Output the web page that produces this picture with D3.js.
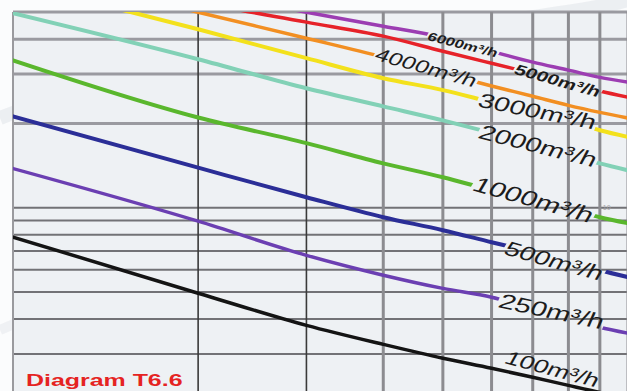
<!DOCTYPE html>
<html>
<head>
<meta charset="utf-8">
<script src="https://cdn.jsdelivr.net/npm/d3@7"></script>
<style>
  html, body { margin: 0; padding: 0; background: #fbfcfd; }
  svg { display: block; }
  text { font-family: "Liberation Sans", Arial, Helvetica, sans-serif; }
</style>
</head>
<body>
<svg id="chart" width="627" height="391"></svg>
<script>
// Grid positions (log axes)
const xTicks = [1, 2, 3, 4, 5, 6, 7, 8, 9, 10];
const yTicks = [3, 4, 5, 6, 7, 8, 9, 10, 20, 30, 40, 50];

// Common abscissa of every curve
const flowX = [1, 2, 3, 4, 5, 6, 7, 8, 9, 10];

// One curve per air flow rate
const q6000 = [81.0, 59.3, 49.9, 44.5, 40.6, 36.2, 33.1, 31.0, 29.2, 28.1];
const q5000 = [76.5, 54.2, 46.0, 41.0, 36.2, 32.8, 30.2, 28.1, 26.1, 24.8];
const q4000 = [73.5, 49.9, 40.3, 34.5, 30.2, 27.2, 25.0, 23.2, 21.9, 20.9];
const q3000 = [63.9, 43.4, 34.2, 29.0, 26.3, 23.8, 21.9, 20.5, 18.9, 17.9];
const q2000 = [49.5, 33.9, 26.7, 23.0, 20.5, 18.5, 16.9, 15.5, 14.4, 13.6];
const q1000 = [33.6, 21.0, 17.0, 14.4, 12.85, 11.55, 10.6, 9.9, 9.25, 8.8];
const q500  = [21.2, 13.9, 10.9, 9.25, 8.31, 7.53, 6.94, 6.44, 5.98, 5.65];
const q250  = [13.8, 8.95, 6.76, 5.74, 5.15, 4.79, 4.38, 4.03, 3.74, 3.56];
const q100  = [7.85, 4.95, 3.80, 3.25, 2.90, 2.67, 2.48, 2.32, 2.19, 2.09];

const seriesLabels = ["6000m³/h", "5000m³/h", "4000m³/h", "3000m³/h", "2000m³/h",
                      "1000m³/h", "500m³/h", "250m³/h", "100m³/h"];
const seriesValues = [q6000, q5000, q4000, q3000, q2000, q1000, q500, q250, q100];

// Drawing styles, one per curve
const seriesColors = ["#9c3db2", "#e62229", "#f28f22", "#f3e11c", "#82d1b6",
                      "#5ab72d", "#2b2e97", "#6b3fb2", "#141414"];
const seriesWidths = [3.5, 3.5, 3.5, 4, 4, 4, 4, 3.5, 3.5];

// Label layout: where along the curve the label sits, its tilt, size, weight
const labelLayout = [
  { at: 5.39, dy: 1.5,  angle: 20, size: 11.7, weight: "bold",   knock: true },
  { at: 7.69, dy: 1,    angle: 22, size: 14.5, weight: "bold",   knock: true },
  { at: 4.70, dy: -1.5, angle: 22, size: 17.6, weight: "normal", knock: true },
  { at: 7.13, dy: -2.5, angle: 16, size: 19.8, weight: "normal", knock: true },
  { at: 7.15, dy: 0,    angle: 20, size: 20.2, weight: "normal", knock: true },
  { at: 7.03, dy: -1.5, angle: 22, size: 20.8, weight: "normal", knock: true },
  { at: 7.59, dy: 3,    angle: 22, size: 19.6, weight: "normal", knock: true },
  { at: 7.52, dy: -2.5, angle: 17, size: 20.4, weight: "normal", knock: true },
  { at: 7.54, dy: -13,  angle: 21, size: 18.6, weight: "normal", knock: false }
];

const W = 627, H = 391;
const plot = { left: 13, top: 12, right: 628, bottom: 403.4 };
const stretch = 1.45;   // text is drawn wide

const x = d3.scaleLog().domain([1, 10]).range([plot.left, plot.right]);
const y = d3.scaleLog().domain([2, 50]).range([plot.bottom, plot.top]);

const svg = d3.select("#chart");
const defs = svg.append("defs");

defs.append("clipPath").attr("id", "plotClip")
  .append("rect")
  .attr("x", plot.left).attr("y", plot.top)
  .attr("width", plot.right - plot.left).attr("height", plot.bottom - plot.top);

// faint decorative swooshes of the page background
svg.append("path")
  .attr("d", "M0,118 Q120,70 360,40 T627,0")
  .attr("fill", "none").attr("stroke", "#e9ebef").attr("stroke-width", 14).attr("opacity", 0.8);
svg.append("path")
  .attr("d", "M0,330 Q200,240 627,210")
  .attr("fill", "none").attr("stroke", "#eceef1").attr("stroke-width", 10).attr("opacity", 0.8);

// plot background
svg.append("rect")
  .attr("x", plot.left).attr("y", plot.top)
  .attr("width", plot.right - plot.left).attr("height", plot.bottom - plot.top)
  .attr("fill", "#eef1f4");

// grid
const grid = svg.append("g");
grid.selectAll("line.h").data(yTicks).join("line")
  .attr("class", "h")
  .attr("x1", plot.left).attr("x2", plot.right)
  .attr("y1", d => y(d)).attr("y2", d => y(d))
  .attr("stroke", d => d > 10 ? "#9a9aa0" : "#727276")
  .attr("stroke-width", d => d > 10 ? 3 : 2);

grid.selectAll("line.v").data(xTicks).join("line")
  .attr("class", "v")
  .attr("x1", d => x(d)).attr("x2", d => x(d))
  .attr("y1", plot.top).attr("y2", H)
  .attr("stroke", d => d === 1 ? "#9a9a9e" : (d <= 3 ? "#3a3a3a" : "#8c8c90"))
  .attr("stroke-width", d => d === 1 ? 2 : (d <= 3 ? 1.6 : 3));

// small "10" tick note on the right
svg.append("text")
  .attr("x", x(9.1)).attr("y", y(10) + 2)
  .attr("font-size", 7).attr("fill", "#a4a4a8")
  .text("10");

// curves
const line = d3.line()
  .x((d, i) => x(flowX[i]))
  .y(d => y(d))
  .curve(d3.curveMonotoneX);

const mask = defs.append("mask").attr("id", "labelKnock")
  .attr("maskUnits", "userSpaceOnUse")
  .attr("x", 0).attr("y", 0).attr("width", W).attr("height", H);
mask.append("rect").attr("x", 0).attr("y", 0).attr("width", W).attr("height", H).attr("fill", "#fff");

const curves = svg.append("g")
  .attr("clip-path", "url(#plotClip)")
  .append("g")
  .attr("mask", "url(#labelKnock)");

curves.selectAll("path").data(seriesValues).join("path")
  .attr("d", d => line(d))
  .attr("fill", "none")
  .attr("stroke", (d, i) => seriesColors[i])
  .attr("stroke-width", (d, i) => seriesWidths[i])
  .attr("stroke-linejoin", "round")
  .attr("stroke-linecap", "round");

// value of a curve at any abscissa (linear in log-log space between samples)
function curveAt(vals, u) {
  const lu = Math.log10(u);
  for (let i = 0; i < flowX.length - 1; i++) {
    const a = Math.log10(flowX[i]), b = Math.log10(flowX[i + 1]);
    if (lu >= a && lu <= b) {
      const t = (lu - a) / (b - a);
      return Math.pow(10, Math.log10(vals[i]) * (1 - t) + Math.log10(vals[i + 1]) * t);
    }
  }
  return vals[vals.length - 1];
}

// labels
const labels = svg.append("g");
seriesLabels.forEach((txt, i) => {
  const L = labelLayout[i];
  const cx = x(L.at);
  const cy = y(curveAt(seriesValues[i], L.at)) + L.dy;
  const tf = `translate(${cx},${cy}) scale(${stretch},1) rotate(${L.angle})`;
  const t = labels.append("text")
    .attr("transform", tf)
    .attr("text-anchor", "middle")
    .attr("dy", "0.36em")
    .attr("font-size", L.size)
    .attr("font-weight", L.weight)
    .attr("fill", "#1c1c1c")
    .text(txt);
  if (L.knock) {
    const bb = t.node().getBBox();
    mask.append("rect")
      .attr("transform", tf)
      .attr("x", bb.x - 1).attr("y", bb.y + bb.height * 0.12)
      .attr("width", bb.width + 2).attr("height", bb.height * 0.8)
      .attr("fill", "#000");
  }
});

// caption
svg.append("text")
  .attr("transform", `translate(26,386) scale(${stretch},1)`)
  .attr("font-size", 17.2)
  .attr("font-weight", "bold")
  .attr("fill", "#e52322")
  .text("Diagram T6.6");
</script>
</body>
</html>
